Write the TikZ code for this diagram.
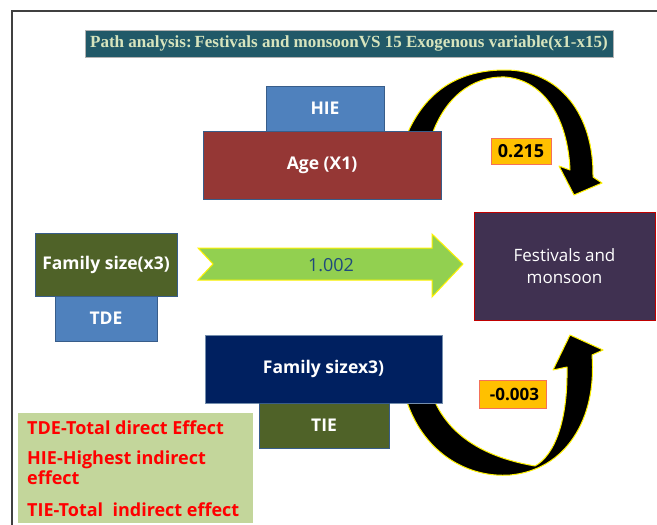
\documentclass[tikz,border=0pt]{standalone}
\usepackage{fontspec}
\setmainfont{Liberation Serif}
\newfontfamily\cs{Open Sans}
\usetikzlibrary{calc}

\definecolor{framegray}{HTML}{404040}
\definecolor{titlefill}{HTML}{215968}
\definecolor{titletext}{HTML}{D7E4BD}
\definecolor{steelblue}{HTML}{4F81BD}
\definecolor{boxedge}{HTML}{385D8A}
\definecolor{agered}{HTML}{953735}
\definecolor{olive}{HTML}{4F6228}
\definecolor{plum}{HTML}{403151}
\definecolor{darkred}{HTML}{C00000}
\definecolor{navy}{HTML}{002060}
\definecolor{limegreen}{HTML}{92D050}
\definecolor{valueblue}{HTML}{1F497D}
\definecolor{legendfill}{HTML}{C3D69B}
\definecolor{amber}{HTML}{FFC000}
\definecolor{amberedge}{HTML}{F4715A}

\tikzset{
  box/.style={draw=boxedge, line width=0.9pt, inner sep=0pt, text=white,
    font=\cs\bfseries\fontsize{17.5}{20}\selectfont, align=center},
  valuebox/.style={fill=amber, draw=amberedge, line width=0.9pt, inner sep=0pt,
    font=\cs\bfseries\fontsize{18}{20}\selectfont},
  bentarrow/.style={fill=black, draw=yellow, line width=1pt, line join=round},
}

\begin{document}
\begin{tikzpicture}[x=1pt, y=-1pt]
\useasboundingbox (0,0) rectangle (657,525);
\fill[white] (0,0) rectangle (657,525);
\draw[framegray, line width=1.6pt] (12,525) -- (12,11) -- (657,11);

% heading
\node[fill=titlefill, draw=gray!60, line width=0.5pt, minimum width=528pt, minimum height=27pt,
      inner sep=0pt, text=titletext, font=\bfseries\fontsize{17}{19}\selectfont]
  (title) at (349,43.5) {Path analysis:\,Festivals and monsoonVS 15 Exogenous variable(x1-x15)};

% curved arrows (drawn first so the boxes cover their bases)
\draw[bentarrow] (408,132) .. controls (428,88) and (462,70) .. (505,70)
  .. controls (560,70) and (594,115) .. (593,177) -- (602,183) -- (574,195)
  -- (559,166) -- (570,170) .. controls (568,120) and (545,80) .. (505,77)
  .. controls (470,76) and (445,100) .. (433,132) -- cycle;
\draw[bentarrow] (407,402) .. controls (425,455) and (470,478) .. (510,475)
  .. controls (565,470) and (597,420) .. (592,355) -- (603,350) -- (570,335)
  -- (553,370) -- (567,367) .. controls (568,420) and (555,455) .. (535,466)
  .. controls (500,460) and (455,445) .. (435,402) -- cycle;

% boxes
\node[box, fill=steelblue, minimum width=118pt, minimum height=45pt] (hie) at (325,108.5) {HIE};
\node[box, fill=agered, minimum width=238pt, minimum height=68pt] (age) at (322,165) {Age (X1)};
\node[box, fill=olive, minimum width=142pt, minimum height=63pt] (fam) at (106,264.5) {Family size(x3)};
\node[box, fill=steelblue, minimum width=102pt, minimum height=45pt] (tde) at (106,318.5) {TDE};
\node[box, draw=darkred, fill=plum, minimum width=181pt, minimum height=108pt,
      font=\cs\fontsize{17}{22}\selectfont] (fest) at (564.5,266) {Festivals and\\monsoon};
\node[box, draw=boxedge!70, fill=navy, minimum width=237pt, minimum height=68pt] (fam2) at (323.5,369) {Family sizex3)};
\node[box, fill=olive, minimum width=130pt, minimum height=45pt] (tie) at (324,425.5) {TIE};

% direct-effect arrow
\coordinate (tail) at (198,264);
\coordinate (tip) at (463,264);
\draw[fill=limegreen, draw=yellow, line width=1pt, line join=miter]
  (tail |- 0,248) -- (432,248) -- (432,234) -- (tip) -- (432,297) -- (432,280)
  -- (tail |- 0,280) -- ($(tail)+(15,0)$) -- cycle;
\node[text=valueblue, font=\cs\fontsize{18}{20}\selectfont] (direct) at (331,265) {1.002};

% coefficient labels
\node[valuebox, minimum width=60pt, minimum height=26pt] (v1) at (521,151) {0.215};
\node[valuebox, minimum width=67pt, minimum height=28pt, font=\cs\bfseries\fontsize{17}{20}\selectfont]
  (v2) at (512.5,394) {\hspace*{4pt}-0.003};

% legend
\node[fill=legendfill, minimum width=235pt, minimum height=110pt, inner sep=0pt] (legend) at (135.5,468) {};
\node[anchor=north west, text=red, align=left, inner sep=0pt,
      font=\cs\bfseries\fontsize{18}{20}\selectfont] (legtext) at (27,421)
  {TDE-Total direct Effect\\[10pt]HIE-Highest indirect\\effect\\[12pt]TIE-Total\ \ indirect effect};
\end{tikzpicture}
\end{document}
